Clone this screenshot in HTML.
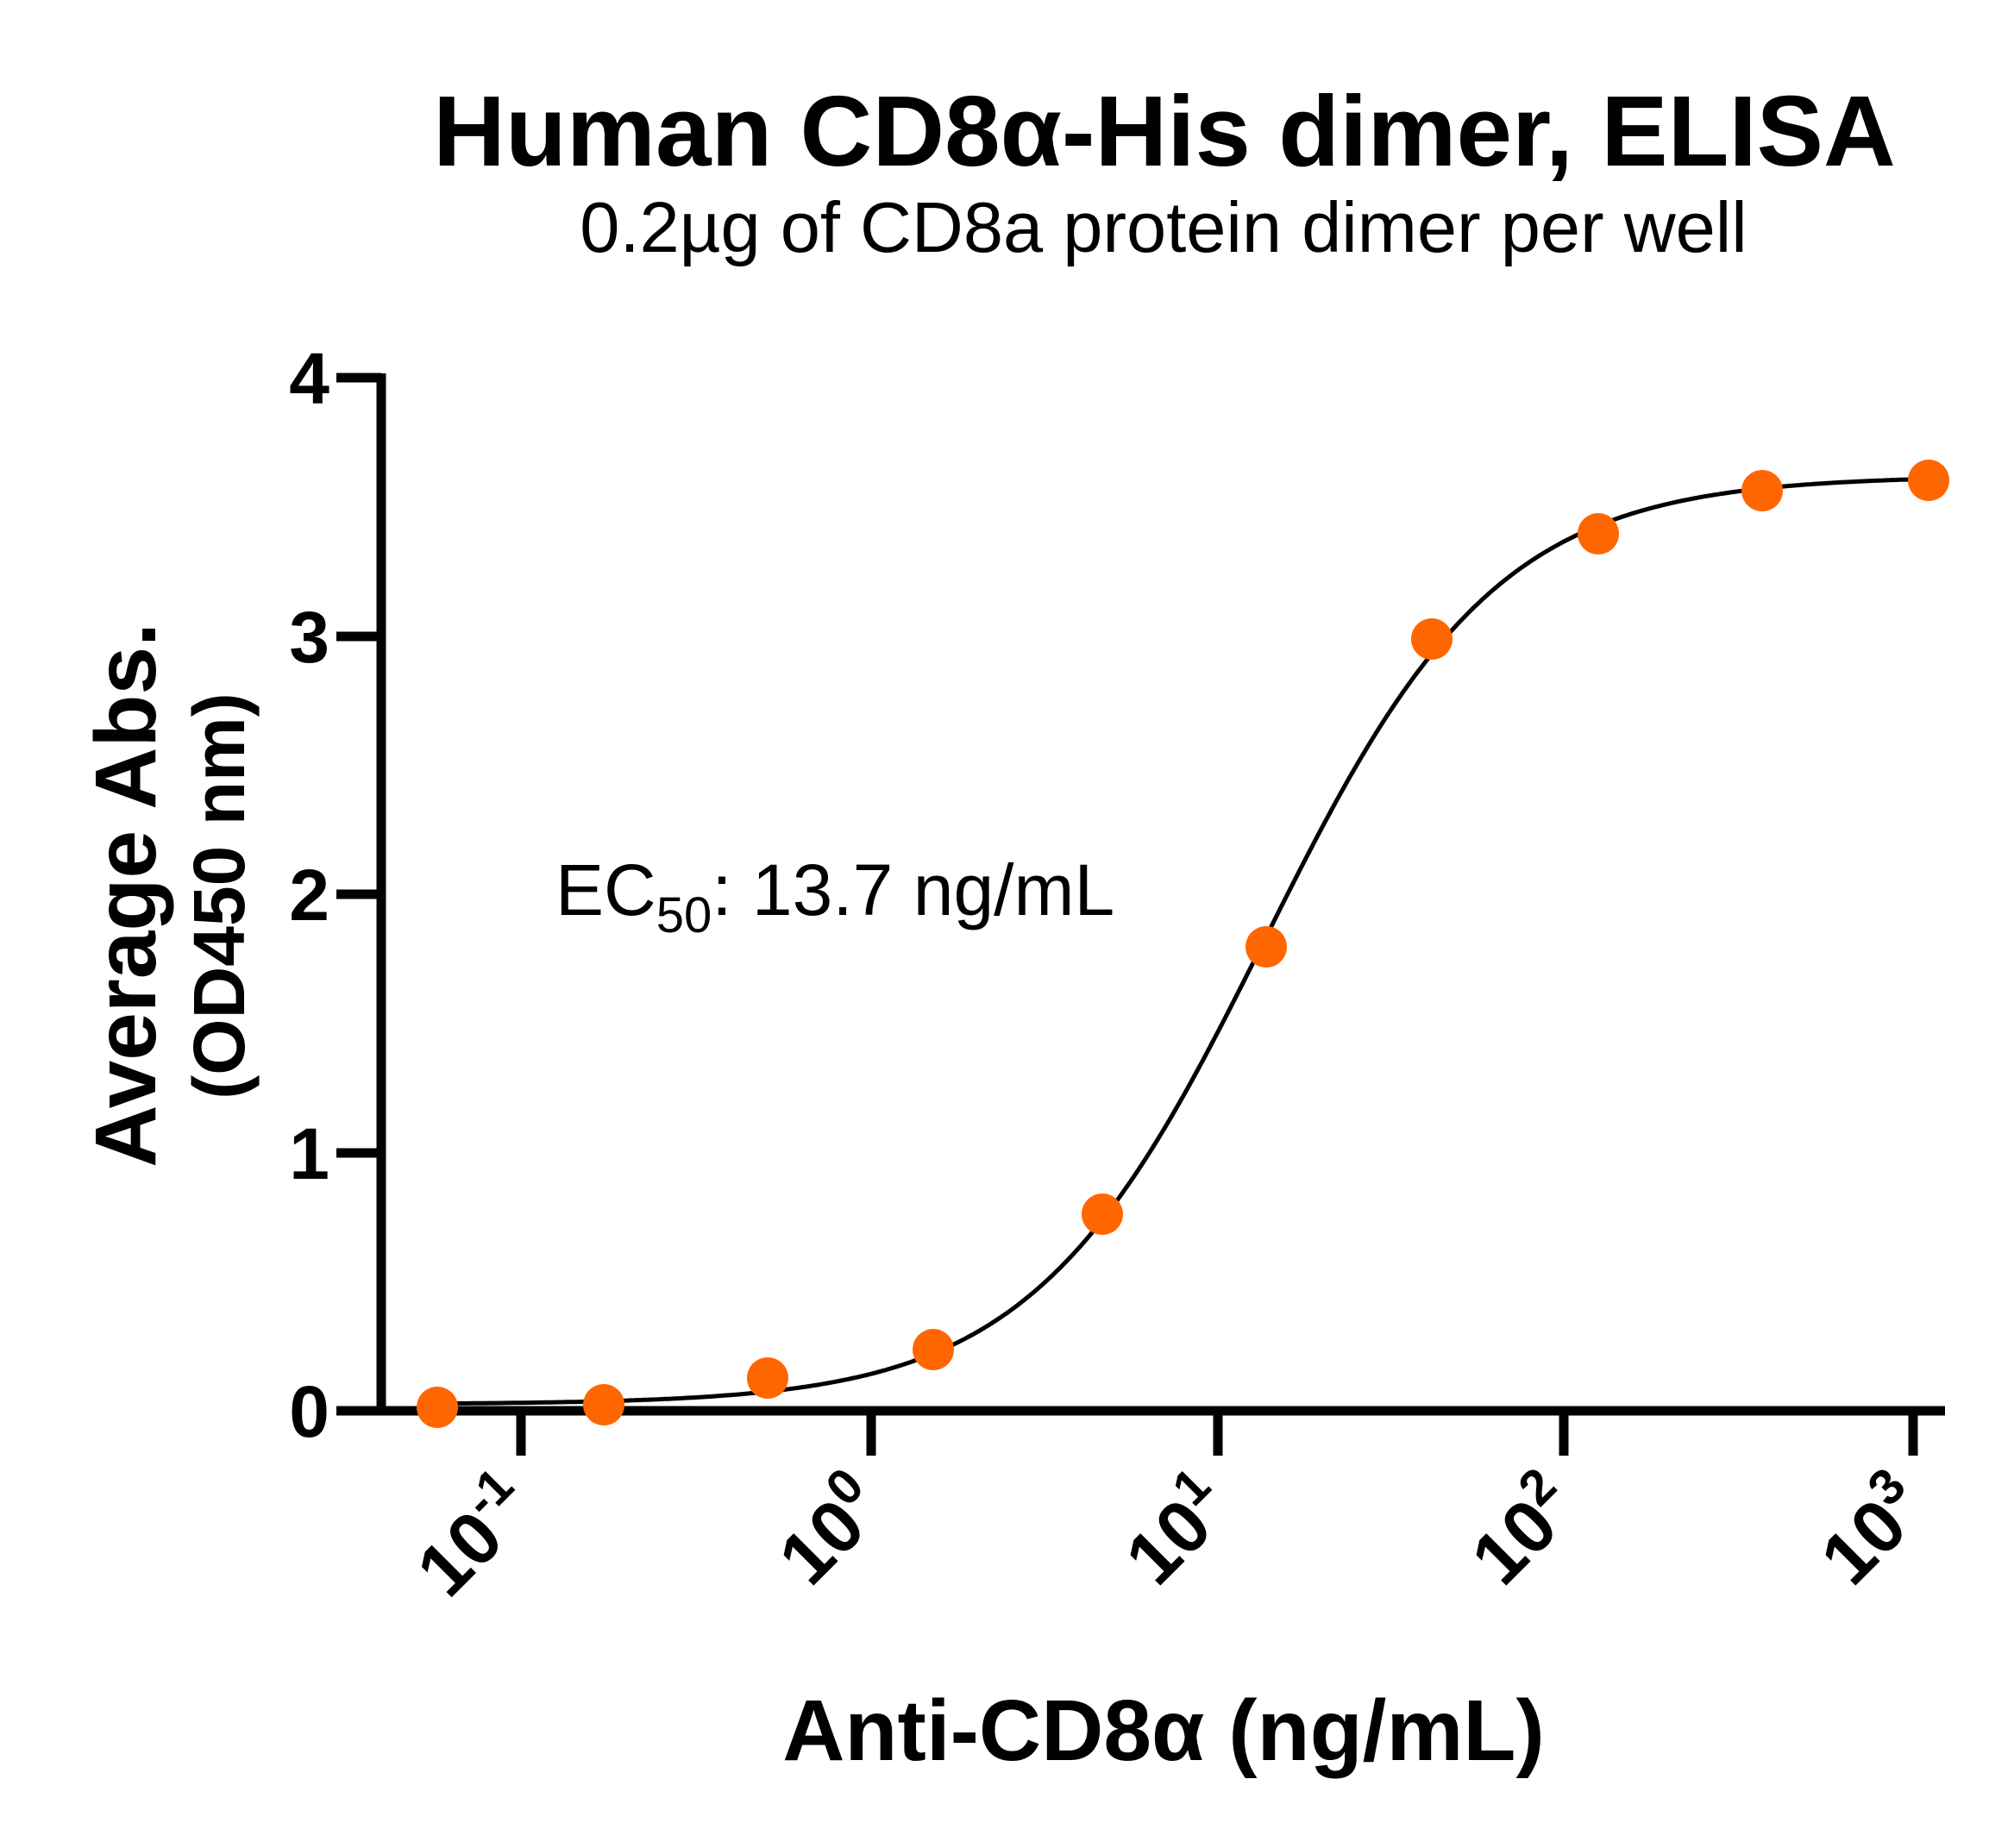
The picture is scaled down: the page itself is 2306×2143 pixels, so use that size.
<!DOCTYPE html>
<html><head><meta charset="utf-8"><style>
html,body{margin:0;padding:0;background:#fff;}
svg{display:block;}
text{font-family:"Liberation Sans",Arial,sans-serif;fill:#000;}
</style></head><body>
<svg id="s" width="2306" height="2143" viewBox="0 0 2306 2143" xmlns="http://www.w3.org/2000/svg">
<text x="1350" y="192" font-size="116" font-weight="bold" text-anchor="middle">Human CD8α-His dimer, ELISA</text>
<text x="1349" y="292" font-size="83" text-anchor="middle">0.2µg of CD8a protein dimer per well</text>
<g stroke="#000" stroke-width="11" fill="none">
<line x1="442" y1="433" x2="442" y2="1641"/>
<line x1="437" y1="1636" x2="2255" y2="1636"/>
<line x1="390" y1="438" x2="442" y2="438"/>
<line x1="390" y1="738" x2="442" y2="738"/>
<line x1="390" y1="1037" x2="442" y2="1037"/>
<line x1="390" y1="1337" x2="442" y2="1337"/>
<line x1="390" y1="1636" x2="442" y2="1636"/>
<line x1="604" y1="1636" x2="604" y2="1688"/>
<line x1="1010" y1="1636" x2="1010" y2="1688"/>
<line x1="1412" y1="1636" x2="1412" y2="1688"/>
<line x1="1813" y1="1636" x2="1813" y2="1688"/>
<line x1="2218" y1="1636" x2="2218" y2="1688"/>
</g>
<g font-size="84" font-weight="bold" text-anchor="end">
<text x="382" y="468">4</text>
<text x="382" y="768">3</text>
<text x="382" y="1067">2</text>
<text x="382" y="1367">1</text>
<text x="382" y="1666">0</text>
</g>
<g font-size="86" font-weight="bold" text-anchor="end">
<text transform="translate(624,1752) rotate(-45)">10<tspan font-size="58" dy="-36">-1</tspan></text>
<text transform="translate(1030,1752) rotate(-45)">10<tspan font-size="58" dy="-36">0</tspan></text>
<text transform="translate(1432,1752) rotate(-45)">10<tspan font-size="58" dy="-36">1</tspan></text>
<text transform="translate(1833,1752) rotate(-45)">10<tspan font-size="58" dy="-36">2</tspan></text>
<text transform="translate(2238,1752) rotate(-45)">10<tspan font-size="58" dy="-36">3</tspan></text>
</g>
<text x="1349" y="2041" font-size="100" font-weight="bold" text-anchor="middle">Anti-CD8α (ng/mL)</text>
<text transform="translate(180,1038) rotate(-90)" font-size="100" font-weight="bold" text-anchor="middle">Average Abs.</text>
<text transform="translate(283,1039) rotate(-90)" font-size="84" font-weight="bold" text-anchor="middle">(OD450 nm)</text>
<text x="644" y="1061" font-size="84">EC<tspan font-size="58" dy="20">50</tspan><tspan dy="-20">: 13.7 ng/mL</tspan></text>
<path id="curve" fill="none" stroke="#000" stroke-width="5"/>
<g id="pts" fill="#ff6600"></g>
</svg>
<script>
var xs=[507,700,890,1082,1278,1468,1660,1853,2043,2236];
var ys=[1632,1629,1598,1565,1408,1098,741,619,569,557];
function Y(v){return 1636-v*299.5;}
var b=0.025,t=3.62,h=1.3,ex=1466;
var d="";
for(var x=507;x<=2236;x+=4){var l=(x-ex)/403.5;var v=b+(t-b)/(1+Math.pow(10,-h*l));d+=(d?"L":"M")+x+","+Y(v).toFixed(1);}
document.getElementById("curve").setAttribute("d",d);
var g=document.getElementById("pts"),s="";
for(var i=0;i<xs.length;i++){s+='<circle cx="'+xs[i]+'" cy="'+ys[i]+'" r="24"/>';}
g.innerHTML=s;
</script>
</body></html>
